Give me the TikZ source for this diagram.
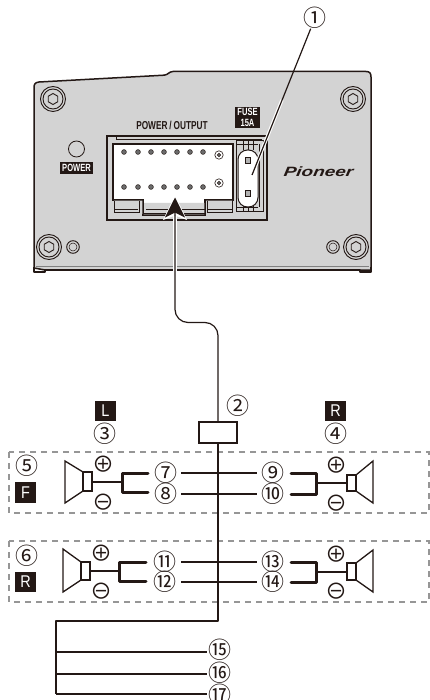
\documentclass[tikz,border=0pt]{standalone}
\usepackage{fontspec}
\usetikzlibrary{arrows.meta}
\setmainfont{Liberation Sans}
\newfontfamily\cjkjp{Noto Sans CJK JP}
\newfontfamily\condbold[FakeStretch=0.72]{Liberation Sans Bold}
\newfontfamily\condreg[FakeStretch=0.85]{Liberation Sans}
\newfontfamily\logofont[FakeStretch=1.4,FakeSlant=0.15]{Liberation Sans Bold Italic}
\definecolor{panel}{HTML}{D3D3D3}
\definecolor{ink}{HTML}{231815}
\definecolor{dashgray}{HTML}{969696}
\tikzset{
  num/.style={font=\cjkjp\fontsize{23}{24}\selectfont,text=ink,inner sep=0pt,outer sep=0pt},
  sign/.style={font=\cjkjp\fontsize{22}{22}\selectfont,text=ink,inner sep=0pt,outer sep=0pt},
  tag/.style={fill=ink,text=white,font=\condreg\fontsize{17}{17}\selectfont,inner sep=0pt,minimum width=20.5pt,minimum height=20.5pt},
  smalltag/.style={fill=ink,text=white,font=\condbold\fontsize{10.5}{11}\selectfont,inner sep=1pt,align=center},
  outline/.style={draw=ink,line width=1.4pt,line join=round},
  thin/.style={draw=ink,line width=.7pt},
  pin/.style={fill=gray!85!black,draw=ink,line width=.5pt},
  wire/.style={draw=ink,line width=1.3pt},
  trunk/.style={draw=ink,line width=1.9pt,line join=round},
  fork/.style={draw=ink,line width=3pt,line join=round,line cap=round},
  zone/.style={draw=dashgray,line width=1.3pt,dash pattern=on 6pt off 5pt},
  speaker/.style={draw=ink,line width=1.3pt,fill=white,line join=miter},
  screwpic/.pic={
    \draw[ink,line width=.9pt,fill=panel] (0,0) circle (12.5pt);
    \draw[ink,line width=.9pt] (0,0) circle (10pt);
    \draw[ink,line width=.9pt] (30:5.5pt)--(90:5.5pt)--(150:5.5pt)--(210:5.5pt)--(270:5.5pt)--(330:5.5pt)--cycle;
  },
  holepic/.pic={
    \draw[ink,line width=.9pt,fill=panel] (0,0) circle (6.3pt);
    \draw[ink,line width=.5pt] (0,0) circle (4pt);
  }
}
\begin{document}
\begin{tikzpicture}[x=1pt,y=-1pt]
\useasboundingbox (0,0) rectangle (429,700);
% ---- device body
\filldraw[fill=panel,outline,line width=1.5pt]
  (34,88) .. controls (34,84) and (35,82.5) .. (39,82) -- (164,75.2) .. controls (168,75) and (169,71.5) .. (173,71.5)
  -- (366,71.5) .. controls (369.5,71.5) and (371,73) .. (371,77) -- (371,270) -- (360,270) -- (45,270) -- (34,268) -- cycle;
\draw[thin,gray] (36,266) -- (369,266);
\draw[outline] (34,267) -- (34,272) -- (45,272) -- (45,270) -- (360,270) -- (360,272) -- (371,272) -- (371,267);
\path (53,99) pic {screwpic} (353,99) pic {screwpic} (49,247) pic {screwpic} (356,247) pic {screwpic};
\path (73,247) pic {holepic} (333,247) pic {holepic};
% power LED + label
\draw[ink,line width=.8pt] (76.5,149) circle (8pt);
\node[smalltag,minimum width=33pt,minimum height=11.5pt,inner sep=0pt] (powerlabel) at (76.5,168) {POWER};
\node[smalltag,minimum width=25pt,minimum height=21pt,inner sep=0pt] (fuselabel) at (247.5,117.5) {FUSE\\15A};
\node[font=\condbold\fontsize{11.5}{12}\selectfont,text=ink,inner sep=0pt] (powerout) at (172,125) {POWER\,/\,OUTPUT};
\node[font=\logofont\fontsize{13.5}{14}\selectfont,text=ink,inner sep=0pt] (logo) at (318,172) {Pioneer};
% ---- connector
\draw[ink,line width=1.1pt] (107,136) rectangle (267,220);
\draw[ink,line width=.6pt] (116,136) -- (116,139) -- (262,139);
\filldraw[fill=white,draw=ink,line width=1.4pt] (113,144) -- (233,144) -- (233,200) -- (205,200) -- (205,215) -- (143,215) -- (143,200) -- (113,200) -- cycle;
\fill[panel] (114,200.7) rectangle (142.3,214) (205.7,200.7) rectangle (232,214) (143.7,203) rectangle (204.3,214.3);
\draw[ink,line width=.7pt] (114,209) -- (138,209) (114,212) -- (139,212) -- (139,201) (114,201) -- (114,212);
\draw[ink,line width=.7pt] (207,209) -- (232,209) (207,212) -- (232,212) -- (232,201) (207,201) -- (207,212);
\draw[ink,line width=1pt] (143,200) -- (143,214) -- (205,214) -- (205,200);
\draw[ink,line width=.7pt] (146,209) -- (205,209);
\foreach \px in {124,138,151,164,177,190,203} {
  \filldraw[pin] (\px,152) circle (2.4pt);
  \filldraw[pin] (\px,187) circle (2.4pt);
}
\foreach \py in {155,183} {
  \draw[ink,line width=.6pt] (219,\py) circle (4.2pt);
  \filldraw[pin] (219,\py) circle (1.7pt);
}
% ---- fuse
\draw[ink,line width=.7pt] (236,140) rectangle (263,211);
\draw[ink,line width=.6pt] (236,144) -- (258,144) (236,207) -- (258,207) (259,144) -- (259,207);
\foreach \fx in {243,248,253} { \draw[ink,line width=.6pt] (\fx,140) -- (\fx,150) (\fx,201) -- (\fx,211); }
\filldraw[fill=white,draw=ink,line width=1pt,rounded corners=9.5pt] (238,150) rectangle (258,207);
\draw[ink,line width=1pt,fill=gray!60] (245.5,158) rectangle (250.5,164);
\draw[ink,line width=1pt,fill=gray!60] (245.5,190.5) rectangle (250.5,197);
% ---- callout 1
\coordinate (fusepoint) at (252,175);
\node[num] (n1) at (315,18) {①};
\draw[white,line width=3.4pt] (fusepoint) -- (282,100);
\draw[draw=ink,line width=1.2pt] (n1) -- (fusepoint);
% ---- zones
\draw[zone] (9,452) rectangle (429,513);
\draw[zone] (9,541) rectangle (429,602);
% ---- harness
\node[draw=ink,line width=1.4pt,fill=white,minimum width=38pt,minimum height=21pt,inner sep=0pt] (plug) at (218,432.5) {};
\coordinate (tip) at (175,197.5);
\draw[white,line width=3.4pt] (175,216) -- (175,276);
\fill[white] (175,195) -- (187,220) -- (175,215.5) -- (163,220) -- cycle;
\draw[draw=ink,line width=1.2pt,rounded corners=13pt,-{Stealth[length=20pt,width=20pt,inset=5pt]}] (plug.north) -- (218,322.5) -- (175,322.5) -- (tip);
\coordinate (branch) at (56,621);
\coordinate (end17) at (56,694);
\draw[trunk] (plug.south) -- (218,621) -- (branch) -- (end17);
\node[num] (n2) at (238,406) {②};
\node[tag] (tagL) at (105.5,411) {L};
\node[num] (n3) at (105,434) {③};
\node[tag] (tagR) at (335.5,411) {R};
\node[num] (n4) at (336,434) {④};
\node[num] (n5) at (27,466) {⑤};
\node[tag] (tagF) at (25.5,492.5) {F};
\node[num] (n6) at (27,556) {⑥};
\node[tag] (tagRR) at (25.5,582) {R};
% numbered wire pairs
\node[num] (n7) at (166,473) {⑦};
\node[num] (n8) at (166,494) {⑧};
\node[num] (n9) at (273,473) {⑨};
\node[num] (n10) at (273,494) {⑩};
\node[num] (n11) at (165,562) {⑪};
\node[num] (n12) at (165,582) {⑫};
\node[num] (n13) at (273,562) {⑬};
\node[num] (n14) at (273,582) {⑭};
\draw[wire,line width=1.6pt] ([xshift=3.5pt]n7.east) -- ([xshift=-5pt]n9.west);
\draw[wire,line width=1.6pt] ([xshift=3.5pt]n8.east) -- ([xshift=-5pt]n10.west);
\draw[wire,line width=1.6pt] ([xshift=4.5pt]n11.east) -- ([xshift=-5pt]n13.west);
\draw[wire,line width=1.6pt] ([xshift=4.5pt]n12.east) -- ([xshift=-5pt]n14.west);
\node[num] (n15) at (220,650) {⑮};
\node[num] (n16) at (220,673) {⑯};
\node[num] (n17) at (220,695) {⑰};
\draw[wire] (56,652) -- ([xshift=-2pt]n15.west |- 56,652);
\draw[wire] (56,674) -- ([xshift=-2pt]n16.west |- 56,674);
\draw[wire,line width=1.7pt] (end17) -- ([xshift=-2pt]n17.west |- end17);
% ---- speakers
\draw[speaker] (65,461) -- (83,472) -- (83,491) -- (65,503) -- cycle;
\draw[speaker] (83,472) rectangle (92,491);
\draw[wire,line width=2pt] (92,482) -- (122,482);
\draw[fork] (148,473) -- (122,473) -- (122,492) -- (148,492);
\draw[speaker] (373,461) -- (356,475) -- (356,491) -- (373,503) -- cycle;
\draw[speaker] (347,475) rectangle (356,491);
\draw[wire,line width=2pt] (347,483) -- (316,483);
\draw[fork] (291,473) -- (316,473) -- (316,494) -- (291,494);
\draw[speaker] (63,549) -- (81,562) -- (81,580) -- (63,592) -- cycle;
\draw[speaker] (81,562) rectangle (90,580);
\draw[wire,line width=2pt] (90,571) -- (119,571);
\draw[fork] (146,562) -- (119,562) -- (119,581) -- (146,581);
\draw[speaker] (373,550) -- (356,563) -- (356,580) -- (373,592) -- cycle;
\draw[speaker] (347,563) rectangle (356,580);
\draw[wire,line width=2pt] (347,572) -- (316,572);
\draw[fork] (291,562) -- (316,562) -- (316,582) -- (291,582);
\node[sign] (p1) at (103,464) {⊕};
\node[sign] (m1) at (103,502) {⊖};
\node[sign] (p2) at (336,465) {⊕};
\node[sign] (m2) at (336,503) {⊖};
\node[sign] (p3) at (101,553) {⊕};
\node[sign] (m3) at (101,591) {⊖};
\node[sign] (p4) at (336,554) {⊕};
\node[sign] (m4) at (336,591) {⊖};
\end{tikzpicture}
\end{document}
